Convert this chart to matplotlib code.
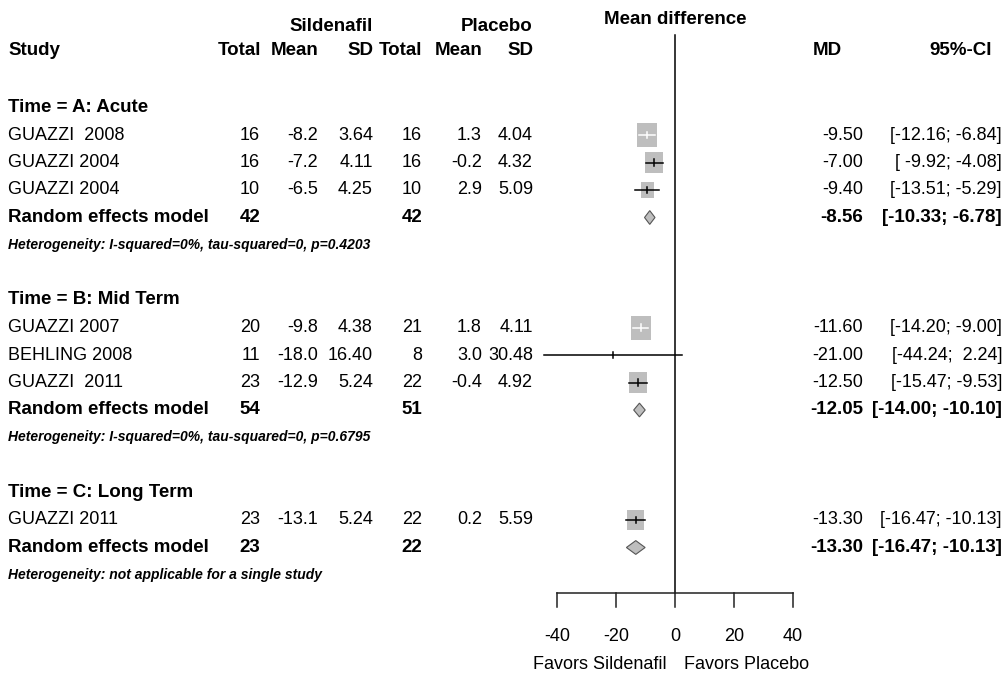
import numpy as np
import matplotlib.pyplot as plt
from matplotlib import transforms
from matplotlib.patches import Rectangle, Polygon

plt.rcParams['font.family'] = ['Liberation Sans', 'DejaVu Sans']

# data
groups = ["Time = A: Acute", "Time = B: Mid Term", "Time = C: Long Term"]
het_text = ["Heterogeneity: I-squared=0%, tau-squared=0, p=0.4203",
            "Heterogeneity: I-squared=0%, tau-squared=0, p=0.6795",
            "Heterogeneity: not applicable for a single study"]
studies = ["GUAZZI  2008", "GUAZZI 2004", "GUAZZI 2004", "GUAZZI 2007",
           "BEHLING 2008", "GUAZZI  2011", "GUAZZI 2011"]
study_group = [0, 0, 0, 1, 1, 1, 2]
n_sil = [16, 16, 10, 20, 11, 23, 23]
mean_sil = [-8.2, -7.2, -6.5, -9.8, -18.0, -12.9, -13.1]
sd_sil = [3.64, 4.11, 4.25, 4.38, 16.40, 5.24, 5.24]
n_pla = [16, 16, 10, 21, 8, 22, 22]
mean_pla = [1.3, -0.2, 2.9, 1.8, 3.0, -0.4, 0.2]
sd_pla = [4.04, 4.32, 5.09, 4.11, 30.48, 4.92, 5.59]
md = [-9.50, -7.00, -9.40, -11.60, -21.00, -12.50, -13.30]
ci_lo = [-12.16, -9.92, -13.51, -14.20, -44.24, -15.47, -16.47]
ci_hi = [-6.84, -4.08, -5.29, -9.00, 2.24, -9.53, -10.13]
re_md = [-8.56, -12.05, -13.30]
re_lo = [-10.33, -14.00, -16.47]
re_hi = [-6.78, -10.10, -10.13]
re_n_sil = [42, 54, 23]
re_n_pla = [42, 51, 22]
xticks = [-40, -20, 0, 20, 40]

W, H = 1006, 679
fig = plt.figure(figsize=(W / 100, H / 100), dpi=100)
ax = fig.add_axes([0, 0, 1, 1])
ax.axis("off")

# 0 of the MD scale sits at 675 px, 2.95 px per unit; rows are 27.5 px apart
ax.set_xlim(-675 / 2.95, (W - 675) / 2.95)
ax.set_ylim((H - 107.5) / 27.5, -107.5 / 27.5)

tr = transforms.blended_transform_factory(fig.transFigure, ax.transData)
fs = 13
fsb = 13.5


def txt(px, r, s, ha="right", **kw):
    ax.text(px / W, r, s, transform=tr, ha=ha, va="center", fontsize=kw.pop("size", fs), **kw)


# headers
txt(373, -2.96, "Sildenafil", size=fsb, fontweight="bold")
txt(533, -2.96, "Placebo", size=fsb, fontweight="bold")
ax.text(0, -3.2, "Mean difference", ha="center", va="center", fontsize=fsb, fontweight="bold")
txt(8, -2.09, "Study", ha="left", size=fsb, fontweight="bold")
for px, s in zip([261, 318, 373, 422, 482, 533, 842, 992],
                 ["Total", "Mean", "SD", "Total", "Mean", "SD", "MD", "95%-CI"]):
    txt(px, -2.09, s, size=fsb, fontweight="bold")

w = 1 / (np.array(sd_sil) ** 2 / np.array(n_sil) + np.array(sd_pla) ** 2 / np.array(n_pla))
side = np.sqrt(w / w.max())
box_w = 20.5 / 2.95
box_h = 24 / 27.5
grey = "#BEBEBE"

r = 0
for g, name in enumerate(groups):
    txt(8, r, name, ha="left", size=fsb, fontweight="bold")
    r += 1
    for i in [k for k in range(len(studies)) if study_group[k] == g]:
        txt(8, r, studies[i], ha="left")
        txt(260, r, f"{n_sil[i]}")
        txt(318, r, f"{mean_sil[i]:.1f}")
        txt(373, r, f"{sd_sil[i]:.2f}")
        txt(422, r, f"{n_pla[i]}")
        txt(482, r, f"{mean_pla[i]:.1f}")
        txt(533, r, f"{sd_pla[i]:.2f}")
        txt(863, r, f"{md[i]:.2f}")
        txt(1002, r, f"[{ci_lo[i]:6.2f}; {ci_hi[i]:5.2f}]")
        bw, bh = box_w * side[i], box_h * side[i]
        ax.add_patch(Rectangle((md[i] - bw / 2, r - bh / 2), bw, bh,
                               facecolor=grey, edgecolor="none", zorder=2))
        inside = (ci_hi[i] - ci_lo[i]) < 0.85 * bw
        lc = "white" if inside else "black"
        ax.plot([ci_lo[i], ci_hi[i]], [r, r], color=lc, lw=1.1, zorder=3)
        ax.plot([md[i], md[i]], [r - 0.12, r + 0.12], color=lc, lw=1.1, zorder=3)
        r += 1
    txt(8, r, "Random effects model", ha="left", size=fsb, fontweight="bold")
    txt(260, r, f"{re_n_sil[g]}", size=fsb, fontweight="bold")
    txt(422, r, f"{re_n_pla[g]}", size=fsb, fontweight="bold")
    txt(863, r, f"{re_md[g]:.2f}", size=fsb, fontweight="bold")
    txt(1002, r, f"[{re_lo[g]:.2f}; {re_hi[g]:.2f}]", size=fsb, fontweight="bold")
    ax.add_patch(Polygon([(re_lo[g], r), (re_md[g], r - 0.25), (re_hi[g], r), (re_md[g], r + 0.25)],
                         closed=True, facecolor=grey, edgecolor="#555555", lw=0.8, zorder=2))
    r += 1
    txt(8, r, het_text[g], ha="left", size=10, fontweight="bold", fontstyle="italic")
    r += 2

# reference line and x axis
axis_r = 17.65
ax.plot([0, 0], [-2.64, axis_r], color="black", lw=1.1)
ax.plot([xticks[0], xticks[-1]], [axis_r, axis_r], color="#222222", lw=1.1)
for t in xticks:
    ax.plot([t, t], [axis_r, axis_r + 0.5], color="#222222", lw=1.1)
    ax.text(t, 19.25, f"{t}", ha="center", va="center", fontsize=fs)
ax.text(-3, 20.27, "Favors Sildenafil", ha="right", va="center", fontsize=fs)
ax.text(3, 20.27, "Favors Placebo", ha="left", va="center", fontsize=fs)

fig.savefig("out.png", dpi=100, facecolor="white")
